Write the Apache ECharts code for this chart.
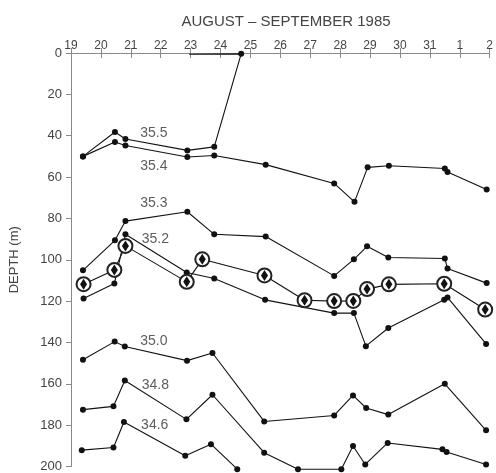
<!DOCTYPE html>
<html>
<head>
<meta charset="utf-8">
<script src="https://cdn.jsdelivr.net/npm/echarts@6/dist/echarts.min.js"></script>
<style>
  html, body { margin: 0; padding: 0; background: #fff; }
  #chart { width: 496px; height: 473px; }
</style>
</head>
<body>
<div id="chart"></div>
<script>
// day 0 = 19 August, day 13 = 1 September
var dayLabels = ['19', '20', '21', '22', '23', '24', '25', '26', '27', '28', '29', '30', '31', '1', '2'];
var depthTicks = [0, 20, 40, 60, 80, 100, 120, 140, 160, 180, 200];

// isolines: [day, depth (m)]
var s355 = [[0.40, 50], [1.47, 38.2], [1.82, 41.6], [3.89, 47.1], [4.79, 45.4], [5.69, 0.4], [3.95, 0.6]];
var s354 = [[0.40, 50], [1.47, 43.0], [1.82, 44.7], [3.89, 50.3], [4.79, 49.6], [6.51, 54.0], [8.80, 63.1],
  [9.48, 72.0], [9.92, 55.3], [10.63, 54.5], [12.50, 55.9], [12.59, 57.5], [13.90, 66.0]];
var s353 = [[0.40, 105.1], [1.47, 90.6], [1.82, 81.3], [3.89, 76.8], [4.79, 87.7], [6.51, 88.8], [8.80, 107.8],
  [9.46, 99.8], [9.90, 93.5], [10.61, 98.9], [12.50, 99.4], [12.59, 104.2], [13.90, 111.3]];
var s352 = [[0.42, 118.7], [1.45, 111.5], [1.82, 87.7], [3.87, 106.2], [4.79, 109.1], [6.49, 119.4], [8.80, 125.8],
  [9.46, 125.8], [9.86, 141.8], [10.61, 133.0], [12.48, 119.4], [12.59, 118.2], [13.88, 140.7]];
var circled = [[0.42, 111.8], [1.45, 104.9], [1.82, 93.3], [3.87, 110.7], [4.39, 99.8], [6.47, 107.6], [7.81, 119.6],
  [8.80, 120.0], [9.44, 119.9], [9.90, 114.2], [10.63, 111.9], [12.48, 111.6], [13.85, 124.1]];
var s350 = [[0.40, 148.4], [1.46, 139.6], [1.80, 142.0], [3.88, 148.8], [4.73, 145.1], [6.46, 178.2], [8.80, 175.3],
  [9.43, 165.6], [9.87, 171.7], [10.61, 174.9], [12.50, 160.0], [13.88, 182.5]];
var s348 = [[0.40, 172.5], [1.42, 170.9], [1.80, 158.4], [3.86, 177.2], [4.73, 165.3], [6.46, 193.3], [7.59, 201.3],
  [9.04, 201.3], [9.43, 190.1], [9.84, 199.0], [10.59, 188.6], [12.42, 191.7], [12.56, 193.0], [13.88, 199.0]];
var s346 = [[0.36, 192.1], [1.42, 190.8], [1.77, 178.5], [3.82, 194.8], [4.68, 189.2], [5.56, 201.3]];

// isoline labels: text, day, depth
var isoLabels = [['35.5', 2.77, 38.7], ['35.4', 2.77, 54.8], ['35.3', 2.77, 72.8], ['35.2', 2.82, 89.8],
  ['35.0', 2.77, 139.6], ['34.8', 2.82, 160.5], ['34.6', 2.80, 179.8]];

var myChart = echarts.init(document.getElementById('chart'));

var frameColor = '#8a8a8a';
var textColor = '#444';
var font = 'Liberation Sans';

function isoline(data) {
  return {
    type: 'line',
    data: data,
    clip: false,
    symbol: 'circle',
    symbolSize: 6,
    lineStyle: { color: '#111', width: 1.1 },
    itemStyle: { color: '#111' },
    emphasis: { disabled: true },
    z: 3
  };
}

// the 35.5 line runs along the surface after reaching it: no dot at that end
var s355Data = s355.map(function (p, i) {
  return i === s355.length - 1 ? { value: p, symbol: 'none' } : p;
});

var option = {
  animation: false,
  title: {
    text: 'AUGUST – SEPTEMBER 1985',
    left: 281,
    top: 9,
    textAlign: 'center',
    textStyle: { color: textColor, fontSize: 15, fontWeight: 'normal', fontFamily: font }
  },
  grid: { left: 68, top: 53, width: 423, height: 415 },
  xAxis: [{
    type: 'value', position: 'top', min: 0, max: 14, interval: 1,
    axisLine: { lineStyle: { color: frameColor } },
    axisTick: { inside: true, length: 5, lineStyle: { color: frameColor } },
    axisLabel: {
      color: textColor, fontSize: 12, fontFamily: font, margin: 1,
      formatter: function (v) { return dayLabels[v]; }
    },
    splitLine: { show: false }
  }, {
    type: 'value', position: 'bottom', min: 0, max: 14, interval: 1,
    axisLine: { lineStyle: { color: frameColor } },
    axisTick: { inside: true, length: 5, lineStyle: { color: frameColor } },
    axisLabel: { show: false },
    splitLine: { show: false }
  }],
  yAxis: [{
    type: 'value', inverse: true, min: 0, max: 200, interval: 20,
    name: 'DEPTH (m)', nameLocation: 'middle', nameRotate: 90, nameGap: 50,
    nameTextStyle: { color: textColor, fontSize: 13, fontFamily: font },
    axisLine: { lineStyle: { color: frameColor } },
    axisTick: { length: 5, lineStyle: { color: frameColor } },
    axisLabel: {
      color: textColor, fontSize: 13, fontFamily: font, margin: 9,
      formatter: function (v) { return depthTicks.indexOf(v) >= 0 ? String(v) : ''; }
    },
    splitLine: { show: false }
  }, {
    type: 'value', inverse: true, min: 0, max: 200, interval: 20, position: 'right',
    axisLine: { show: true, lineStyle: { color: frameColor } },
    axisTick: { inside: true, length: 5, lineStyle: { color: frameColor } },
    axisLabel: { show: false },
    splitLine: { show: false }
  }],
  series: [
    isoline(s355Data),
    isoline(s354),
    isoline(s353),
    isoline(s352),
    isoline(s350),
    isoline(s348),
    isoline(s346),
    {
      type: 'line',
      data: circled,
      clip: false,
      symbol: 'emptyCircle',
      symbolSize: 14,
      showAllSymbol: true,
      lineStyle: { color: '#111', width: 1.1 },
      itemStyle: { color: '#222', borderWidth: 1 },
      emphasis: { disabled: true },
      z: 4
    },
    {
      type: 'scatter',
      data: circled,
      symbol: 'diamond',
      symbolSize: [7, 11],
      itemStyle: { color: '#111', opacity: 1 },
      emphasis: { disabled: true },
      z: 5
    },
    {
      type: 'scatter',
      data: isoLabels.map(function (d) { return { value: [d[1], d[2]], name: d[0] }; }),
      symbolSize: 0,
      label: {
        show: true, position: 'inside', formatter: '{b}',
        color: '#333', fontSize: 14, fontFamily: font
      },
      emphasis: { disabled: true },
      z: 6
    }
  ]
};

myChart.setOption(option);
</script>
</body>
</html>
